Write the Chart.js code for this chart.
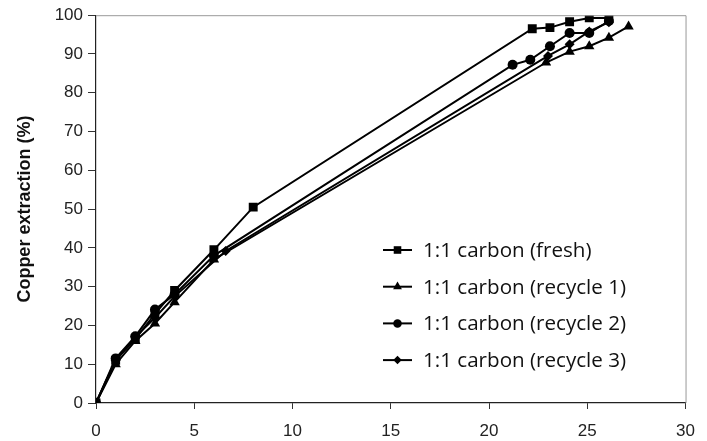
<!DOCTYPE html>
<html>
<head>
<meta charset="utf-8">
<title>Copper extraction</title>
<script src="https://cdn.jsdelivr.net/npm/chart.js@4/dist/chart.umd.min.js"></script>
<style>
  html, body { margin: 0; padding: 0; background: #fff; }
  #wrap { width: 707px; height: 441px; }
</style>
</head>
<body>
<div id="wrap"><canvas id="cuChart" width="707" height="441"></canvas></div>
<script>
// Data (time vs copper extraction %)
const freshX = [0, 1, 2, 3, 4, 6, 8, 22.2, 23.1, 24.1, 25.1, 26.1];
const freshY = [0, 11, 16.5, 23, 29, 39.5, 50.5, 96.5, 96.8, 98.3, 99.3, 99.3];

const rec1X = [0, 1, 2, 3, 4, 6, 22.9, 24.1, 25.1, 26.1, 27.1];
const rec1Y = [0, 10, 16, 20.5, 26, 37, 87.8, 90.6, 92, 94.2, 97.1];

const rec2X = [0, 1, 2, 3, 4, 6, 21.2, 22.1, 23.1, 24.1, 25.1, 26.1];
const rec2Y = [0, 11.5, 17.2, 24.1, 28, 38, 87.2, 88.5, 92, 95.4, 95.4, 98.5];

const rec3X = [0, 1, 2, 3, 4, 6.6, 23, 24.1, 25.1, 26.1];
const rec3Y = [0, 11, 17, 22, 27.5, 39.2, 89.5, 92.5, 95.8, 98.2];

const xTicks = [0, 5, 10, 15, 20, 25, 30];
const yTicks = [0, 10, 20, 30, 40, 50, 60, 70, 80, 90, 100];

const seriesLabels = [
    '1:1 carbon (fresh)',
    '1:1 carbon (recycle 1)',
    '1:1 carbon (recycle 2)',
    '1:1 carbon (recycle 3)'
];

const toPoints = (xs, ys) => xs.map((x, i) => ({ x: x, y: ys[i] }));

function makeSet(label, xs, ys, style, radius) {
    return {
        label: label,
        data: toPoints(xs, ys),
        showLine: true,
        borderColor: '#000',
        backgroundColor: '#000',
        borderWidth: 2,
        pointStyle: style,
        pointRadius: radius,
        pointBorderWidth: 0,
        pointBackgroundColor: '#000',
        tension: 0
    };
}

// Gray frame on the top and right of the plot area
const frameLines = {
    id: 'frameLines',
    afterDraw(chart) {
        const { ctx, chartArea: a } = chart;
        ctx.save();
        ctx.strokeStyle = '#999';
        ctx.lineWidth = 1;
        ctx.beginPath();
        ctx.moveTo(a.left, a.top + 0.5);
        ctx.lineTo(a.right + 0.5, a.top + 0.5);
        ctx.lineTo(a.right + 0.5, a.bottom);
        ctx.stroke();
        ctx.restore();
    }
};

// Legend drawn inside the plot, like the original figure
const innerLegend = {
    id: 'innerLegend',
    afterDraw(chart, args, opts) {
        const ctx = chart.ctx;
        ctx.save();
        ctx.font = opts.font;
        ctx.textBaseline = 'middle';
        chart.data.datasets.forEach((ds, i) => {
            const y = opts.top + i * opts.rowGap;
            ctx.strokeStyle = '#000';
            ctx.lineWidth = 2;
            ctx.beginPath();
            ctx.moveTo(opts.left, y);
            ctx.lineTo(opts.left + opts.lineLen, y);
            ctx.stroke();
            ctx.fillStyle = '#000';
            if (Chart.helpers && Chart.helpers.drawPoint) {
                Chart.helpers.drawPoint(ctx, {
                    pointStyle: ds.pointStyle,
                    radius: ds.pointRadius * 0.85,
                    rotation: 0,
                    borderWidth: 0
                }, opts.left + opts.lineLen / 2, y);
            }
            ctx.fillStyle = '#111';
            ctx.fillText(ds.label, opts.left + opts.lineLen + opts.gap, y + 1);
        });
        ctx.restore();
    }
};

new Chart(document.getElementById('cuChart'), {
    type: 'scatter',
    data: {
        datasets: [
            makeSet(seriesLabels[0], freshX, freshY, 'rect', 6.3),
            makeSet(seriesLabels[1], rec1X, rec1Y, 'triangle', 6),
            makeSet(seriesLabels[2], rec2X, rec2Y, 'circle', 5),
            makeSet(seriesLabels[3], rec3X, rec3Y, 'rectRot', 5)
        ]
    },
    options: {
        responsive: false,
        animation: false,
        layout: { padding: { left: 0, top: 14, right: 10, bottom: 0 } },
        plugins: {
            legend: { display: false },
            tooltip: { enabled: false },
            innerLegend: {
                left: 383, lineLen: 29, gap: 11, top: 250, rowGap: 36.7,
                font: '20.6px "Open Sans", Lato, sans-serif'
            }
        },
        scales: {
            x: {
                type: 'linear',
                min: 0, max: 30,
                afterBuildTicks: s => { s.ticks = xTicks.map(v => ({ value: v })); },
                afterFit: s => { s.height = 38; },
                grid: {
                    display: true,
                    drawOnChartArea: false,
                    drawTicks: true,
                    tickLength: 6,
                    color: '#333'
                },
                border: { color: '#222', width: 1.2 },
                ticks: {
                    padding: 12,
                    color: '#222',
                    font: { family: '"Liberation Sans", Arial, sans-serif', size: 17 },
                    maxRotation: 0
                }
            },
            y: {
                type: 'linear',
                min: 0, max: 100,
                afterBuildTicks: s => { s.ticks = yTicks.map(v => ({ value: v })); },
                afterFit: s => { s.width = 96; },
                grid: {
                    display: true,
                    drawOnChartArea: false,
                    drawTicks: true,
                    tickLength: 8,
                    color: '#333'
                },
                border: { color: '#222', width: 1.2 },
                ticks: {
                    padding: 5,
                    color: '#222',
                    font: { family: '"Liberation Sans", Arial, sans-serif', size: 17 }
                },
                title: {
                    display: true,
                    text: 'Copper extraction (%)',
                    color: '#111',
                    font: { family: '"Liberation Sans", Arial, sans-serif', size: 18, weight: 'bold' },
                    padding: { top: 14, bottom: 0 }
                }
            }
        }
    },
    plugins: [frameLines, innerLegend]
});
</script>
</body>
</html>
